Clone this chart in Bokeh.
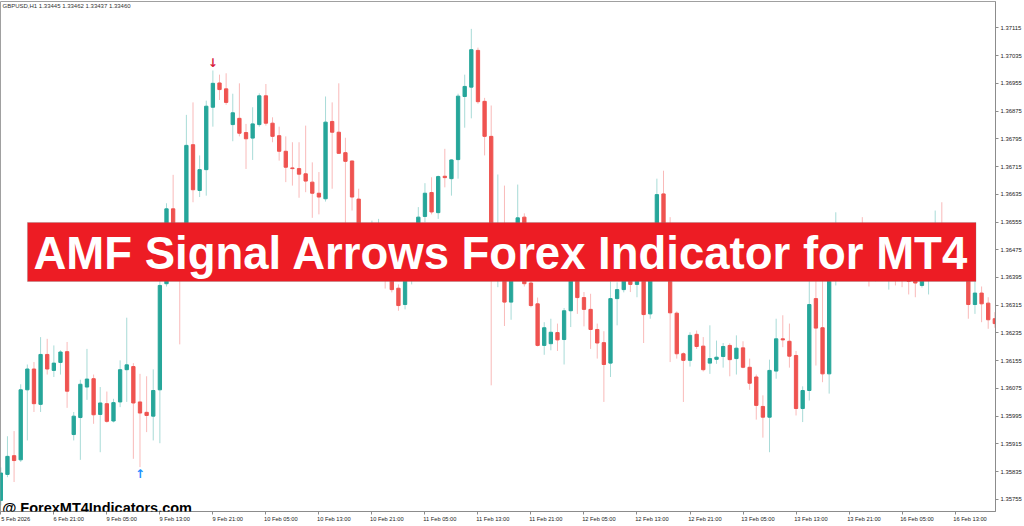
from bokeh.plotting import figure
from bokeh.models import Range1d, FixedTicker, ColumnDataSource, Label, BoxAnnotation, PrintfTickFormatter
from bokeh.embed import file_html
from bokeh.resources import INLINE
from bokeh.core.properties import value

# ---------------- data ----------------
symbol_header = "GBPUSD,H1  1.33445 1.33462 1.33437 1.33460"
title_text = "AMF Signal Arrows Forex Indicator for MT4"
watermark_text = "@ ForexMT4Indicators.com"

open_ = [1.35752, 1.35827, 1.35881, 1.35869, 1.36071, 1.36131, 1.36029, 1.36173, 1.36127, 1.36150,
         1.36181, 1.35942, 1.35991, 1.36079, 1.36103, 1.36000, 1.36031, 1.35981, 1.36036, 1.36129,
         1.36138, 1.36036, 1.36006, 1.35995, 1.36071, 1.36377, 1.36593, 1.36502, 1.36456, 1.36778,
         1.36646, 1.36706, 1.36886, 1.36956, 1.36939, 1.36836, 1.36854, 1.36813, 1.36797, 1.36836,
         1.36919, 1.36840, 1.36804, 1.36759, 1.36711, 1.36709, 1.36694, 1.36670, 1.36638, 1.36622,
         1.36845, 1.36814, 1.36755, 1.36731, 1.36621, 1.36502, 1.36459, 1.36502, 1.36525, 1.36415,
         1.36364, 1.36317, 1.36444, 1.36502, 1.36571, 1.36640, 1.36582, 1.36687, 1.36680, 1.36735,
         1.36917, 1.36944, 1.37050, 1.36903, 1.36802, 1.36450, 1.36525, 1.36324, 1.36473, 1.36569,
         1.36379, 1.36319, 1.36199, 1.36204, 1.36236, 1.36216, 1.36299, 1.36438, 1.36337, 1.36303,
         1.36245, 1.36207, 1.36148, 1.36334, 1.36360, 1.36401, 1.36375, 1.36421, 1.36290, 1.36502,
         1.36636, 1.36502, 1.36292, 1.36175, 1.36156, 1.36231, 1.36197, 1.36148, 1.36159, 1.36167,
         1.36199, 1.36161, 1.36192, 1.36136, 1.36108, 1.36023, 1.35992, 1.36125, 1.36218, 1.36211,
         1.36170, 1.36017, 1.36069, 1.36334, 1.36250, 1.36117, 1.36487, 1.36525, 1.36473, 1.36496,
         1.36516, 1.36450, 1.36421, 1.36438, 1.36409, 1.36438, 1.36415, 1.36409, 1.36392, 1.36372,
         1.36401, 1.36438, 1.36487, 1.36459, 1.36438, 1.36459, 1.36421, 1.36317, 1.36350, 1.36321,
         1.36276]

high = [1.35847, 1.35937, 1.35952, 1.36087, 1.36144, 1.36151, 1.36223, 1.36218, 1.36199, 1.36185,
        1.36209, 1.36007, 1.36100, 1.36189, 1.36115, 1.36079, 1.36066, 1.36045, 1.36156, 1.36279,
        1.36148, 1.36117, 1.36110, 1.36130, 1.36386, 1.36609, 1.36691, 1.36519, 1.36864, 1.36900,
        1.36747, 1.36905, 1.36992, 1.36980, 1.36984, 1.36925, 1.36955, 1.36838, 1.36886, 1.36926,
        1.36953, 1.36857, 1.36830, 1.36802, 1.36785, 1.36785, 1.36833, 1.36727, 1.36699, 1.36917,
        1.36900, 1.36955, 1.36798, 1.36732, 1.36651, 1.36513, 1.36559, 1.36564, 1.36536, 1.36438,
        1.36375, 1.36459, 1.36516, 1.36598, 1.36667, 1.36684, 1.36689, 1.36766, 1.36736, 1.36925,
        1.36980, 1.37112, 1.37058, 1.36913, 1.36891, 1.36692, 1.36660, 1.36487, 1.36663, 1.36580,
        1.36386, 1.36337, 1.36266, 1.36276, 1.36262, 1.36307, 1.36459, 1.36459, 1.36353, 1.36348,
        1.36262, 1.36240, 1.36384, 1.36381, 1.36415, 1.36421, 1.36438, 1.36438, 1.36516, 1.36680,
        1.36703, 1.36569, 1.36297, 1.36179, 1.36237, 1.36242, 1.36223, 1.36257, 1.36213, 1.36206,
        1.36205, 1.36228, 1.36211, 1.36161, 1.36115, 1.36055, 1.36158, 1.36276, 1.36286, 1.36262,
        1.36183, 1.36081, 1.36386, 1.36392, 1.36389, 1.36502, 1.36583, 1.36536, 1.36531, 1.36531,
        1.36569, 1.36467, 1.36459, 1.36456, 1.36450, 1.36459, 1.36438, 1.36427, 1.36415, 1.36421,
        1.36459, 1.36588, 1.36612, 1.36479, 1.36473, 1.36473, 1.36438, 1.36386, 1.36369, 1.36338,
        1.36295]

low = [1.35738, 1.35819, 1.35805, 1.35863, 1.35925, 1.36007, 1.36007, 1.36115, 1.36108, 1.36115,
       1.36019, 1.35925, 1.35869, 1.36042, 1.35973, 1.35891, 1.35976, 1.35977, 1.36021, 1.36036,
       1.35872, 1.35848, 1.35949, 1.35925, 1.35917, 1.36369, 1.36487, 1.36202, 1.36444, 1.36612,
       1.36627, 1.36631, 1.36830, 1.36907, 1.36893, 1.36788, 1.36802, 1.36708, 1.36734, 1.36830,
       1.36833, 1.36785, 1.36732, 1.36670, 1.36660, 1.36625, 1.36641, 1.36567, 1.36577, 1.36614,
       1.36651, 1.36752, 1.36540, 1.36588, 1.36473, 1.36430, 1.36438, 1.36473, 1.36363, 1.36352,
       1.36299, 1.36303, 1.36375, 1.36487, 1.36554, 1.36577, 1.36564, 1.36655, 1.36631, 1.36680,
       1.36827, 1.36854, 1.36896, 1.36747, 1.36084, 1.36367, 1.36255, 1.36273, 1.36459, 1.36369,
       1.36309, 1.36196, 1.36172, 1.36185, 1.36183, 1.36144, 1.36252, 1.36290, 1.36254, 1.36189,
       1.36161, 1.36036, 1.36108, 1.36257, 1.36352, 1.36353, 1.36338, 1.36206, 1.36276, 1.36487,
       1.36473, 1.36151, 1.36161, 1.36036, 1.36138, 1.36189, 1.36124, 1.36117, 1.36146, 1.36135,
       1.36110, 1.36115, 1.36133, 1.36071, 1.35985, 1.35933, 1.35891, 1.36103, 1.36194, 1.36135,
       1.35997, 1.35978, 1.36040, 1.36141, 1.36093, 1.36060, 1.36372, 1.36438, 1.36450, 1.36450,
       1.36421, 1.36369, 1.36384, 1.36392, 1.36360, 1.36372, 1.36367, 1.36346, 1.36338, 1.36366,
       1.36346, 1.36421, 1.36438, 1.36415, 1.36421, 1.36401, 1.36276, 1.36290, 1.36266, 1.36247,
       1.36250]

close = [1.35831, 1.35879, 1.35867, 1.36071, 1.36131, 1.36031, 1.36173, 1.36131, 1.36148, 1.36180,
         1.36067, 1.35995, 1.36087, 1.36102, 1.35999, 1.36033, 1.35980, 1.36034, 1.36129, 1.36143,
         1.36033, 1.36004, 1.35997, 1.36069, 1.36372, 1.36593, 1.36502, 1.36456, 1.36776, 1.36648,
         1.36706, 1.36889, 1.36955, 1.36937, 1.36900, 1.36870, 1.36811, 1.36795, 1.36838, 1.36919,
         1.36840, 1.36802, 1.36759, 1.36713, 1.36709, 1.36693, 1.36673, 1.36638, 1.36627, 1.36843,
         1.36814, 1.36753, 1.36730, 1.36627, 1.36502, 1.36459, 1.36502, 1.36525, 1.36415, 1.36360,
         1.36314, 1.36444, 1.36502, 1.36569, 1.36638, 1.36584, 1.36686, 1.36683, 1.36734, 1.36918,
         1.36946, 1.37052, 1.36902, 1.36802, 1.36502, 1.36525, 1.36324, 1.36473, 1.36567, 1.36377,
         1.36314, 1.36199, 1.36250, 1.36237, 1.36215, 1.36299, 1.36438, 1.36337, 1.36303, 1.36245,
         1.36206, 1.36144, 1.36334, 1.36360, 1.36401, 1.36375, 1.36421, 1.36288, 1.36502, 1.36634,
         1.36502, 1.36293, 1.36175, 1.36156, 1.36228, 1.36196, 1.36129, 1.36161, 1.36165, 1.36196,
         1.36158, 1.36191, 1.36136, 1.36090, 1.36026, 1.35992, 1.36127, 1.36218, 1.36215, 1.36168,
         1.36017, 1.36069, 1.36317, 1.36249, 1.36117, 1.36487, 1.36525, 1.36473, 1.36496, 1.36516,
         1.36450, 1.36421, 1.36438, 1.36415, 1.36438, 1.36409, 1.36398, 1.36384, 1.36379, 1.36409,
         1.36438, 1.36487, 1.36459, 1.36438, 1.36459, 1.36421, 1.36317, 1.36350, 1.36319, 1.36273,
         1.36262]

time_tick_index = [0, 8, 16, 24, 32, 40, 48, 56, 64, 72, 80, 88, 96, 104, 112, 120, 128, 136, 144]
time_tick_labels = ["5 Feb 2026", "6 Feb 21:00", "9 Feb 05:00", "9 Feb 13:00", "9 Feb 21:00",
                    "10 Feb 05:00", "10 Feb 13:00", "10 Feb 21:00", "11 Feb 05:00", "11 Feb 13:00",
                    "11 Feb 21:00", "12 Feb 05:00", "12 Feb 13:00", "12 Feb 21:00", "13 Feb 05:00",
                    "13 Feb 13:00", "13 Feb 21:00", "16 Feb 05:00", "16 Feb 13:00"]
price_ticks = [1.35755, 1.35835, 1.35915, 1.35995, 1.36075, 1.36155, 1.36235, 1.36315, 1.36395,
               1.36475, 1.36555, 1.36635, 1.36715, 1.36795, 1.36875, 1.36955, 1.37035, 1.37115]

up_signal_index = [21]
down_signal_index = [32]

# ---------------- styling constants ----------------
BULL = "#26a69a"
BEAR = "#ef5350"
Y_MIN, Y_MAX = 1.35720, 1.37191
X_MIN, X_MAX = -0.05, 150.1
LABEL_SHIFT = 2.25  # time labels start at their tick (MT4 style)


def fx(frac):
    return X_MIN + frac * (X_MAX - X_MIN)


def fy(frac_from_top):
    return Y_MAX - frac_from_top * (Y_MAX - Y_MIN)


idx = list(range(len(open_)))
colors = [BULL if c >= o else BEAR for o, c in zip(open_, close)]
src = ColumnDataSource(dict(
    x=idx, h=high, l=low,
    top=[max(o, c) for o, c in zip(open_, close)],
    bottom=[min(o, c) for o, c in zip(open_, close)],
    color=colors,
))

p = figure(width=1024, height=526, output_backend="svg", toolbar_location=None,
           x_range=Range1d(X_MIN, X_MAX), y_range=Range1d(Y_MIN, Y_MAX),
           y_axis_location="right",
           min_border_left=0, min_border_right=27, min_border_top=1, min_border_bottom=15)
p.grid.visible = False
p.background_fill_color = "white"
p.border_fill_color = "white"
p.outline_line_color = "#a0a0a0"

p.segment(x0="x", y0="l", x1="x", y1="h", source=src, line_color="color", line_alpha=0.4, line_width=1)
p.vbar(x="x", top="top", bottom="bottom", width=0.5, source=src,
       fill_color="color", line_color="color", line_width=1)

# signal arrows
up_src = ColumnDataSource(dict(x=up_signal_index, y=[low[i] for i in up_signal_index],
                               t=["\u2191"] * len(up_signal_index)))
dn_src = ColumnDataSource(dict(x=down_signal_index, y=[high[i] for i in down_signal_index],
                               t=["\u2193"] * len(down_signal_index)))
p.text(x="x", y="y", text="t", source=up_src, text_color="#1e90ff", text_font=value("DejaVu Sans"),
       text_font_size="12px", text_font_style="bold", text_align="center", text_baseline="top")
p.text(x="x", y="y", text="t", source=dn_src, text_color="#d81b3c", text_font=value("DejaVu Sans"),
       text_font_size="12px", text_font_style="bold", text_align="center", text_baseline="bottom")

# axes
ya = p.yaxis[0]
ya.ticker = FixedTicker(ticks=price_ticks)
ya.formatter = PrintfTickFormatter(format="%.5f")
ya.major_label_text_font = "Liberation Sans"
ya.major_label_text_font_size = "5.9px"
ya.major_label_text_color = "#222222"
ya.major_tick_out = 3
ya.major_tick_in = 0
ya.minor_tick_line_color = None
ya.axis_line_color = "#8c8c8c"
ya.major_tick_line_color = "#8c8c8c"
ya.major_label_standoff = 2

xa = p.xaxis[0]
xa.ticker = FixedTicker(ticks=[i + LABEL_SHIFT for i in time_tick_index], minor_ticks=time_tick_index)
xa.major_label_overrides = {i + LABEL_SHIFT: lab for i, lab in zip(time_tick_index, time_tick_labels)}
xa.major_label_text_font = "Liberation Sans"
xa.major_label_text_font_size = "5.7px"
xa.major_label_text_color = "#222222"
xa.major_tick_line_color = None
xa.major_tick_out = 3
xa.major_tick_in = 0
xa.minor_tick_line_color = "#8c8c8c"
xa.minor_tick_out = 3
xa.minor_tick_in = 0
xa.axis_line_color = "#8c8c8c"
xa.major_label_standoff = 1

# header text
p.add_layout(Label(x=fx(0.002), y=fy(0.0094), text=symbol_header, text_font="Liberation Sans",
                   text_font_size="6px", text_color="#333333", text_baseline="middle"))

# banner
p.add_layout(BoxAnnotation(left=fx(0.0271), right=fx(0.9804), top=fy(0.4333), bottom=fy(0.549),
                           fill_color="#ed1c24", fill_alpha=1.0, line_color="#7d7d7d", line_width=1))
p.add_layout(Label(x=fx(0.5032), y=fy(0.494), text=title_text, text_font="Liberation Sans",
                   text_font_style="bold", text_font_size="45.5px", text_color="white",
                   text_align="center", text_baseline="middle"))

# watermark
p.add_layout(Label(x=fx(0.0017), y=fy(0.993), text=watermark_text, text_font="Liberation Sans",
                   text_font_style="bold", text_font_size="14.5px", text_color="black",
                   text_baseline="alphabetic"))

open("out.html", "w").write(file_html(p, INLINE))
